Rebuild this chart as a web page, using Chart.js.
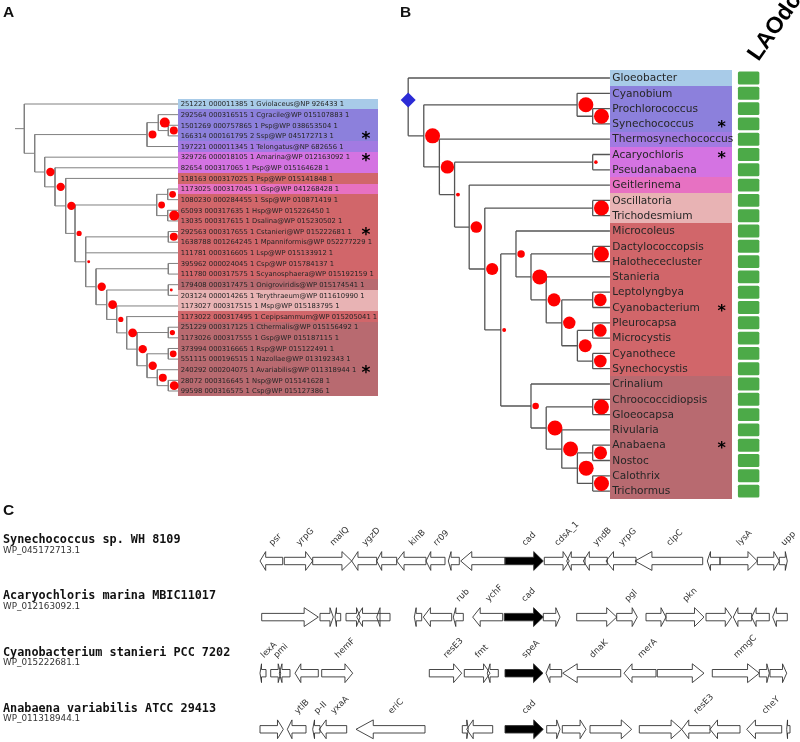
<!DOCTYPE html>
<html>
<head>
<meta charset="utf-8">
<script src="https://cdn.jsdelivr.net/npm/chart.js@4.4.1/dist/chart.umd.min.js"></script>
<style>
  html, body { margin: 0; padding: 0; background: #fff; }
  #page { position: relative; width: 800px; height: 742px; overflow: hidden; }
  #page canvas { position: absolute; }
</style>
</head>
<body>
<div id="page">
  <canvas id="treeA" width="400" height="420" style="left:0;top:0"></canvas>
  <canvas id="treeB" width="400" height="520" style="left:400px;top:0"></canvas>
  <canvas id="genes" width="800" height="242" style="left:0;top:500px"></canvas>
</div>
<script>
// ---------- A: tree of the cad homologues ----------
const leavesA = [
  '251221 000011385 1 Gviolaceus@NP 926433 1',
  '292564 000316515 1 Cgracile@WP 015107883 1',
  '1501269 000757865 1 Psp@WP 038653504 1',
  '166314 000161795 2 Ssp@WP 045172713 1',
  '197221 000011345 1 Telongatus@NP 682656 1',
  '329726 000018105 1 Amarina@WP 012163092 1',
  '82654 000317065 1 Psp@WP 015164628 1',
  '118163 000317025 1 Psp@WP 015141848 1',
  '1173025 000317045 1 Gsp@WP 041268428 1',
  '1080230 000284455 1 Ssp@WP 010871419 1',
  '65093 000317635 1 Hsp@WP 015226450 1',
  '13035 000317615 1 Dsalina@WP 015230502 1',
  '292563 000317655 1 Cstanieri@WP 015222681 1',
  '1638788 001264245 1 Mpanniformis@WP 052277229 1',
  '111781 000316605 1 Lsp@WP 015133912 1',
  '395962 000024045 1 Csp@WP 015784137 1',
  '111780 000317575 1 Scyanosphaera@WP 015192159 1',
  '179408 000317475 1 Onigroviridis@WP 015174541 1',
  '203124 000014265 1 Terythraeum@WP 011610990 1',
  '1173027 000317515 1 Msp@WP 015183795 1',
  '1173022 000317495 1 Cepipsammum@WP 015205041 1',
  '251229 000317125 1 Cthermalis@WP 015156492 1',
  '1173026 000317555 1 Gsp@WP 015187115 1',
  '373994 000316665 1 Rsp@WP 015122491 1',
  '551115 000196515 1 Nazollae@WP 013192343 1',
  '240292 000204075 1 Avariabilis@WP 011318944 1',
  '28072 000316645 1 Nsp@WP 015141628 1',
  '99598 000316575 1 Csp@WP 015127386 1'
];
const groupsA = [0, 1, 1, 1, 2, 3, 3, 5, 4, 5, 5, 5, 5, 5, 5, 5, 5, 7, 6, 6, 5, 7, 7, 7, 7, 7, 7, 7];
const starsA = [3, 5, 12, 25];
// [node, depth, children (leaf index or node), support]
const nodesA = [
  ['root', 9.3, [0, 'N1'], null],
  ['N1', 19.7, ['C1', 'L2'], null],
  ['C1', 132, ['C1a', 4], 0.75],
  ['C1a', 143.3, [1, 'C1b'], 1.0],
  ['C1b', 153.3, [2, 3], 0.75],
  ['L2', 29.7, [5, 'L3'], 0.8],
  ['L3', 40, [6, 'L4'], 0.8],
  ['L4', 50.7, [7, 'L5'], 0.8],
  ['L5', 60, ['D', 'L6'], 0.4],
  ['D', 141.7, ['D1', 'D2'], 0.6],
  ['D1', 152.7, [8, 9], 0.6],
  ['D2', 152.7, [10, 11], 1.0],
  ['L6', 70.7, ['E', 14, 'L7'], 0.12],
  ['E', 153.3, [12, 13], 0.75],
  ['L7', 81, ['F', 'L8'], 0.8],
  ['F', 153.3, [15, 16], null],
  ['L8', 91.7, ['G', 'L9'], 0.85],
  ['G', 153.3, [17, 18], 0.12],
  ['L9', 101.7, [19, 'L10'], 0.4],
  ['L10', 111.7, [20, 'L11'], 0.85],
  ['L11', 122, ['H', 'M'], 0.8],
  ['H', 153.3, [21, 22], 0.4],
  ['M', 132, ['I', 'K'], 0.8],
  ['I', 153.3, [23, 24], 0.6],
  ['K', 142.3, [25, 'J'], 0.75],
  ['J', 153.3, [26, 27], 0.85]
];

// ---------- B: species tree ----------
const leavesB = ['Gloeobacter', 'Cyanobium', 'Prochlorococcus', 'Synechococcus', 'Thermosynechococcus',
  'Acaryochloris', 'Pseudanabaena', 'Geitlerinema', 'Oscillatoria', 'Trichodesmium', 'Microcoleus',
  'Dactylococcopsis', 'Halothececluster', 'Stanieria', 'Leptolyngbya', 'Cyanobacterium', 'Pleurocapsa',
  'Microcystis', 'Cyanothece', 'Synechocystis', 'Crinalium', 'Chroococcidiopsis', 'Gloeocapsa',
  'Rivularia', 'Anabaena', 'Nostoc', 'Calothrix', 'Trichormus'];
const groupsB = [0, 1, 1, 1, 2, 3, 3, 4, 6, 6, 5, 5, 5, 5, 5, 5, 5, 5, 5, 5, 7, 7, 7, 7, 7, 7, 7, 7];
const starsB = [3, 5, 15, 24];
const laodcB = [1, 1, 1, 1, 1, 1, 1, 1, 1, 1, 1, 1, 1, 1, 1, 1, 1, 1, 1, 1, 1, 1, 1, 1, 1, 1, 1, 1];
const nodesB = [
  ['root', 0.7, [0, 'N1'], null],
  ['N1', 16.7, ['S', 'N2'], 1.0],
  ['S', 174, [1, 'S2'], 1.0],
  ['S2', 190, [2, 3], 1.0],
  ['N2', 32.7, [4, 'N3'], 0.88],
  ['N3', 48.3, ['A', 'N4'], 0.15],
  ['A', 190, [5, 6], 0.12],
  ['N4', 63.3, [7, 'N5'], 0.74],
  ['N5', 79.3, ['OT', 'N6'], 0.78],
  ['OT', 190, [8, 9], 1.0],
  ['N6', 95.7, ['N7', 'N8'], 0.15],
  ['N7', 111.3, [10, 'N9'], 0.42],
  ['N9', 126.7, ['DH', 'N10'], 1.0],
  ['DH', 190, [11, 12], 1.0],
  ['N10', 142.3, [13, 'N11'], 0.85],
  ['N11', 158.3, ['LC', 'N12'], 0.8],
  ['LC', 190, [14, 15], 0.82],
  ['N12', 174.3, ['PM', 'CS'], 0.85],
  ['PM', 190, [16, 17], 0.82],
  ['CS', 190, [18, 19], 0.82],
  ['N8', 126.7, [20, 'N13'], 0.35],
  ['N13', 142.3, ['CG', 'N14'], 1.0],
  ['CG', 190, [21, 22], 1.0],
  ['N14', 158.3, [23, 'N15'], 1.0],
  ['N15', 174.3, ['AN', 'CT'], 1.0],
  ['AN', 190, [24, 25], 0.85],
  ['CT', 190, [26, 27], 1.0]
];

// ---------- C: gene neighbourhoods, [start, end, strand, name, query] ----------
const genomes = ['Synechococcus sp. WH 8109', 'Acaryochloris marina MBIC11017',
  'Cyanobacterium stanieri PCC 7202', 'Anabaena variabilis ATCC 29413'];
const accessions = ['WP_045172713.1', 'WP_012163092.1', 'WP_015222681.1', 'WP_011318944.1'];
const genesSyn = [
  [0, 22.7, -1, 'psr'], [24.3, 52.7, 1, 'yrpG'], [52.7, 91.7, 1, 'malQ'], [91.7, 116.7, -1, 'ygzD'],
  [116.7, 136.7, -1, ''], [136.7, 166, -1, 'kinB'], [166, 185, -1, 'rr09'], [188.3, 199.3, -1, ''],
  [200.7, 245, -1, ''], [245, 283.3, 1, 'cad', 1], [284.3, 309.3, 1, 'cdsA_1'], [306.7, 325, -1, ''],
  [323.3, 347.3, -1, 'yndB'], [346, 376, -1, 'yrpG'], [375, 442.7, -1, 'clpC'], [447.3, 460, -1, ''],
  [460, 497.3, 1, 'lysA'], [497.3, 519.3, 1, ''], [519.3, 527.3, 1, 'upp']
];
const genesAcar = [
  [1.7, 58.3, 1, ''], [60, 73.3, 1, ''], [75, 80.7, -1, ''], [86, 100, 1, ''], [96.7, 120, -1, ''],
  [116.7, 130, -1, ''], [154.3, 161.7, -1, ''], [163.3, 191.7, -1, ''], [193.3, 203.3, -1, 'rub'],
  [212.7, 242.7, -1, 'ychF'], [244.3, 283.3, 1, 'cad', 1], [283.3, 300, 1, ''], [316.7, 356.7, 1, ''],
  [356.7, 377.3, 1, 'pgl'], [386, 406, 1, ''], [406, 444, 1, 'pkn'], [446, 471.7, 1, ''],
  [473.3, 491.7, -1, ''], [491.7, 509.3, -1, ''], [512.7, 527.3, -1, '']
];
const genesCyan = [
  [0, 6, -1, 'lexA'], [10.7, 20.7, 1, 'pmi'], [19.3, 30, -1, ''], [35, 58.3, -1, ''],
  [61.7, 92.7, 1, 'hemF'], [169.3, 201.7, 1, 'resE3'], [204.3, 230, 1, 'fmt'], [227.3, 238.3, -1, ''],
  [245, 283, 1, 'speA', 1], [286, 301.7, -1, ''], [302.7, 360.7, -1, 'dnaK'], [364, 396, -1, 'merA'],
  [397.3, 444, 1, ''], [452.3, 499.3, 1, 'mmgC'], [499.3, 509.3, 1, ''], [510, 526.7, 1, '']
];
const genesAnab = [
  [0, 23.3, 1, ''], [27.3, 46, -1, 'ytlB'], [52.7, 60, -1, 'p-II'], [59.3, 86.7, -1, 'yxaA'],
  [96, 165, -1, 'eriC'], [202.3, 208.3, 1, ''], [206.7, 232.7, -1, ''], [245, 283.3, 1, 'cad', 1],
  [286.7, 300, 1, ''], [302.3, 326, 1, ''], [330, 371.7, 1, ''], [379.3, 421.7, 1, ''],
  [421.7, 450, -1, 'resE3'], [450, 480, -1, ''], [486.7, 521.7, -1, 'cheY'], [526.7, 530, -1, '']
];
const geneRows = [genesSyn, genesAcar, genesCyan, genesAnab];

// colours of the clade boxes
const groupColors = ['#a8cbe8', '#8c80dc', '#a27ae2', '#d473e2', '#e771c2', '#d1666a', '#e8b3b4', '#b86a70'];

// work out y of each inner node (middle of first and last child)
function layoutTree(nodes) {
  const tree = {};
  nodes.forEach(n => { tree[n[0]] = { name: n[0], depth: n[1], kids: n[2], support: n[3] }; });
  const yOf = k => typeof k === 'number' ? k : nodeY(tree[k]);
  function nodeY(n) {
    if (n.y === undefined) {
      const ys = n.kids.map(yOf);
      n.y = (ys[0] + ys[ys.length - 1]) / 2;
    }
    return n.y;
  }
  Object.values(tree).forEach(nodeY);
  return tree;
}

// branch segments as one line with gaps
function branchPoints(tree, leafDepth, stubFrom) {
  const pts = [];
  const gap = () => pts.push({ x: null, y: null });
  Object.values(tree).forEach(n => {
    const ys = n.kids.map(k => typeof k === 'number' ? k : tree[k].y);
    pts.push({ x: n.depth, y: ys[0] }, { x: n.depth, y: ys[ys.length - 1] });
    gap();
    n.kids.forEach((k, i) => {
      const d = typeof k === 'number' ? leafDepth : tree[k].depth;
      pts.push({ x: n.depth, y: ys[i] }, { x: d, y: ys[i] });
      gap();
    });
  });
  if (stubFrom !== null) {
    pts.push({ x: stubFrom, y: tree.root.y }, { x: tree.root.depth, y: tree.root.y });
  }
  return pts;
}

function baseOptions(xMax, nRows, padding) {
  return {
    responsive: false,
    animation: false,
    events: [],
    layout: { padding: padding },
    plugins: { legend: { display: false }, tooltip: { enabled: false }, title: { display: false } },
    scales: {
      x: { type: 'linear', min: 0, max: xMax, display: false },
      y: { type: 'linear', min: -0.5, max: nRows - 0.5, reverse: true, display: false }
    }
  };
}

function treePlugin(cfg) {
  return {
    id: 'tree' + cfg.key,
    beforeDatasetsDraw(chart) {
      const { ctx, scales: { x, y } } = chart;
      const x0 = Math.round(x.getPixelForValue(cfg.boxFrom));
      const x1 = Math.round(x.getPixelForValue(cfg.boxTo));
      cfg.leaves.forEach((_, i) => {
        const t = Math.round(y.getPixelForValue(i - 0.5));
        const b = Math.round(y.getPixelForValue(i + 0.5));
        ctx.fillStyle = groupColors[cfg.groups[i]];
        ctx.fillRect(x0, t, x1 - x0, b - t);
      });
    },
    afterDatasetsDraw(chart) {
      const { ctx, scales: { x, y } } = chart;
      const x0 = x.getPixelForValue(cfg.boxFrom);
      const x1 = x.getPixelForValue(cfg.boxTo);
      ctx.save();
      ctx.beginPath();
      ctx.rect(x0, 0, x1 - x0 + 2, chart.height);
      ctx.clip();
      ctx.font = cfg.font;
      ctx.fillStyle = '#262626';
      ctx.textAlign = 'left';
      ctx.textBaseline = 'middle';
      cfg.leaves.forEach((name, i) => ctx.fillText(name, x0 + cfg.textPad, y.getPixelForValue(i) + 0.5));
      ctx.restore();
      ctx.save();
      ctx.font = cfg.starFont;
      ctx.fillStyle = '#000';
      ctx.textAlign = 'center';
      ctx.textBaseline = 'middle';
      cfg.stars.forEach(i => ctx.fillText('*', x.getPixelForValue(cfg.starAt), y.getPixelForValue(i) + cfg.starDy));
      ctx.font = 'bold 15.5px "Liberation Sans"';
      ctx.textAlign = 'left';
      ctx.textBaseline = 'alphabetic';
      ctx.fillStyle = '#111';
      ctx.fillText(cfg.letter, cfg.letterX, 16.5);
      ctx.restore();
      if (cfg.extra) cfg.extra(chart);
    }
  };
}

function makeTree(canvasId, cfg) {
  const tree = layoutTree(cfg.nodes);
  const supported = Object.values(tree).filter(n => n.support !== null);
  const radii = supported.map(n => cfg.radius(n.support));
  const datasets = [
    {
      data: branchPoints(tree, cfg.boxFrom, cfg.stub),
      showLine: true, borderColor: cfg.lineColor, borderWidth: cfg.lineWidth,
      pointRadius: 0, spanGaps: false, clip: false, order: 3
    },
    {
      // support symbols sit just right of their node
      data: supported.map((n, i) => ({ x: n.depth + radii[i] + 1.5, y: n.y })),
      pointRadius: radii, pointBackgroundColor: '#ff0000', pointBorderWidth: 0, clip: false, order: 1
    }
  ];
  if (cfg.rootMark) {
    datasets.push({
      data: [{ x: tree.root.depth, y: tree.root.y - 0.45 }],
      pointStyle: 'rectRot', pointRadius: 7.5, pointBackgroundColor: '#2b2bd6',
      pointBorderWidth: 0, clip: false, order: 2
    });
  }
  return new Chart(document.getElementById(canvasId), {
    type: 'scatter',
    data: { datasets: datasets },
    options: baseOptions(cfg.xMax, cfg.leaves.length, cfg.padding),
    plugins: [treePlugin(cfg)]
  });
}

// panel A
makeTree('treeA', {
  key: 'A', leaves: leavesA, groups: groupsA, stars: starsA, nodes: nodesA,
  boxFrom: 163, boxTo: 363, xMax: 363, stub: 0, starAt: 351, starDy: 4,
  padding: { left: 15, right: 22, top: 98.7, bottom: 23.7 },
  radius: s => 1 + 4 * s,
  lineColor: '#808080', lineWidth: 1,
  font: '6.8px "DejaVu Sans"', textPad: 2.7, starFont: 'bold 17px "DejaVu Sans"',
  letter: 'A', letterX: 3
});

// panel B with the LAOdc presence column
makeTree('treeB', {
  key: 'B', leaves: leavesB, groups: groupsB, stars: starsB, nodes: nodesB,
  boxFrom: 207.7, boxTo: 332.7, xMax: 395, stub: null, starAt: 322.3, starDy: 4,
  padding: { left: 5, right: 0, top: 70.35, bottom: 21.25 },
  radius: s => 1 + 6.5 * s,
  lineColor: '#555', lineWidth: 1.3, rootMark: true,
  font: '10.6px "DejaVu Sans"', textPad: 2.4, starFont: 'bold 16px "DejaVu Sans"',
  letter: 'B', letterX: 0,
  extra(chart) {
    const { ctx, scales: { x, y } } = chart;
    const c0 = x.getPixelForValue(339), c1 = x.getPixelForValue(361);
    ctx.save();
    ctx.fillStyle = '#4caa48';
    laodcB.forEach((v, i) => {
      if (!v) return;
      const t = y.getPixelForValue(i - 0.5) + 1.2, b = y.getPixelForValue(i + 0.5) - 1.2;
      ctx.beginPath();
      ctx.roundRect(c0, t, c1 - c0, b - t, 1.5);
      ctx.fill();
    });
    ctx.translate(x.getPixelForValue(360), y.getPixelForValue(-1.05));
    ctx.rotate(-55 * Math.PI / 180);
    ctx.font = 'bold 23px "Liberation Sans"';
    ctx.fillStyle = '#000';
    ctx.textAlign = 'left';
    ctx.textBaseline = 'alphabetic';
    ctx.fillText('LAOdc', 0, 0);
    ctx.restore();
  }
});

// panel C
function arrowPath(ctx, x1, x2, yc, strand) {
  const head = (x2 - x1) * 0.25, bh = 3.7, hh = 9.4;
  ctx.beginPath();
  if (strand > 0) {
    ctx.moveTo(x1, yc - bh); ctx.lineTo(x2 - head, yc - bh); ctx.lineTo(x2 - head, yc - hh);
    ctx.lineTo(x2, yc); ctx.lineTo(x2 - head, yc + hh); ctx.lineTo(x2 - head, yc + bh); ctx.lineTo(x1, yc + bh);
  } else {
    ctx.moveTo(x2, yc - bh); ctx.lineTo(x1 + head, yc - bh); ctx.lineTo(x1 + head, yc - hh);
    ctx.lineTo(x1, yc); ctx.lineTo(x1 + head, yc + hh); ctx.lineTo(x1 + head, yc + bh); ctx.lineTo(x2, yc + bh);
  }
  ctx.closePath();
}

const genePlugin = {
  id: 'genes',
  afterDatasetsDraw(chart) {
    const { ctx, scales: { x, y } } = chart;
    ctx.save();
    ctx.fillStyle = '#111';
    ctx.font = 'bold 15.5px "Liberation Sans"';
    ctx.fillText('C', 3, 14.5);
    geneRows.forEach((genes, r) => {
      const yc = y.getPixelForValue(r);
      ctx.textAlign = 'left';
      ctx.textBaseline = 'middle';
      ctx.fillStyle = '#111';
      ctx.font = 'bold 11.8px "DejaVu Sans Mono"';
      ctx.fillText(genomes[r], 3, yc - 20.7);
      ctx.fillStyle = '#333';
      ctx.font = '8.8px "DejaVu Sans"';
      ctx.fillText(accessions[r], 3, yc - 10.3);
      // fill first, then outlines, so overlapping ends show as crossings
      genes.forEach(g => {
        arrowPath(ctx, x.getPixelForValue(g[0]), x.getPixelForValue(g[1]), yc, g[2]);
        ctx.fillStyle = g[4] ? '#000' : '#fff';
        ctx.fill();
      });
      ctx.strokeStyle = '#333';
      ctx.lineWidth = 0.9;
      genes.forEach(g => {
        arrowPath(ctx, x.getPixelForValue(g[0]), x.getPixelForValue(g[1]), yc, g[2]);
        ctx.stroke();
      });
      ctx.font = '8.6px "DejaVu Sans"';
      ctx.fillStyle = '#333';
      ctx.textBaseline = 'alphabetic';
      genes.forEach(g => {
        if (!g[3]) return;
        ctx.save();
        ctx.translate(x.getPixelForValue((g[0] + g[1]) / 2) + 1, yc - 15);
        ctx.rotate(-Math.PI / 4);
        ctx.fillText(g[3], 0, 0);
        ctx.restore();
      });
    });
    ctx.restore();
  }
};

const cOptions = baseOptions(540, 4, { left: 260, right: 0, top: 61, bottom: 12.7 });
cOptions.scales.y.min = 0;
cOptions.scales.y.max = 3;
new Chart(document.getElementById('genes'), {
  type: 'scatter',
  data: {
    datasets: [{
      data: geneRows.flatMap((genes, r) => genes.map(g => ({ x: (g[0] + g[1]) / 2, y: r }))),
      pointRadius: 0
    }]
  },
  options: cOptions,
  plugins: [genePlugin]
});
</script>
</body>
</html>
